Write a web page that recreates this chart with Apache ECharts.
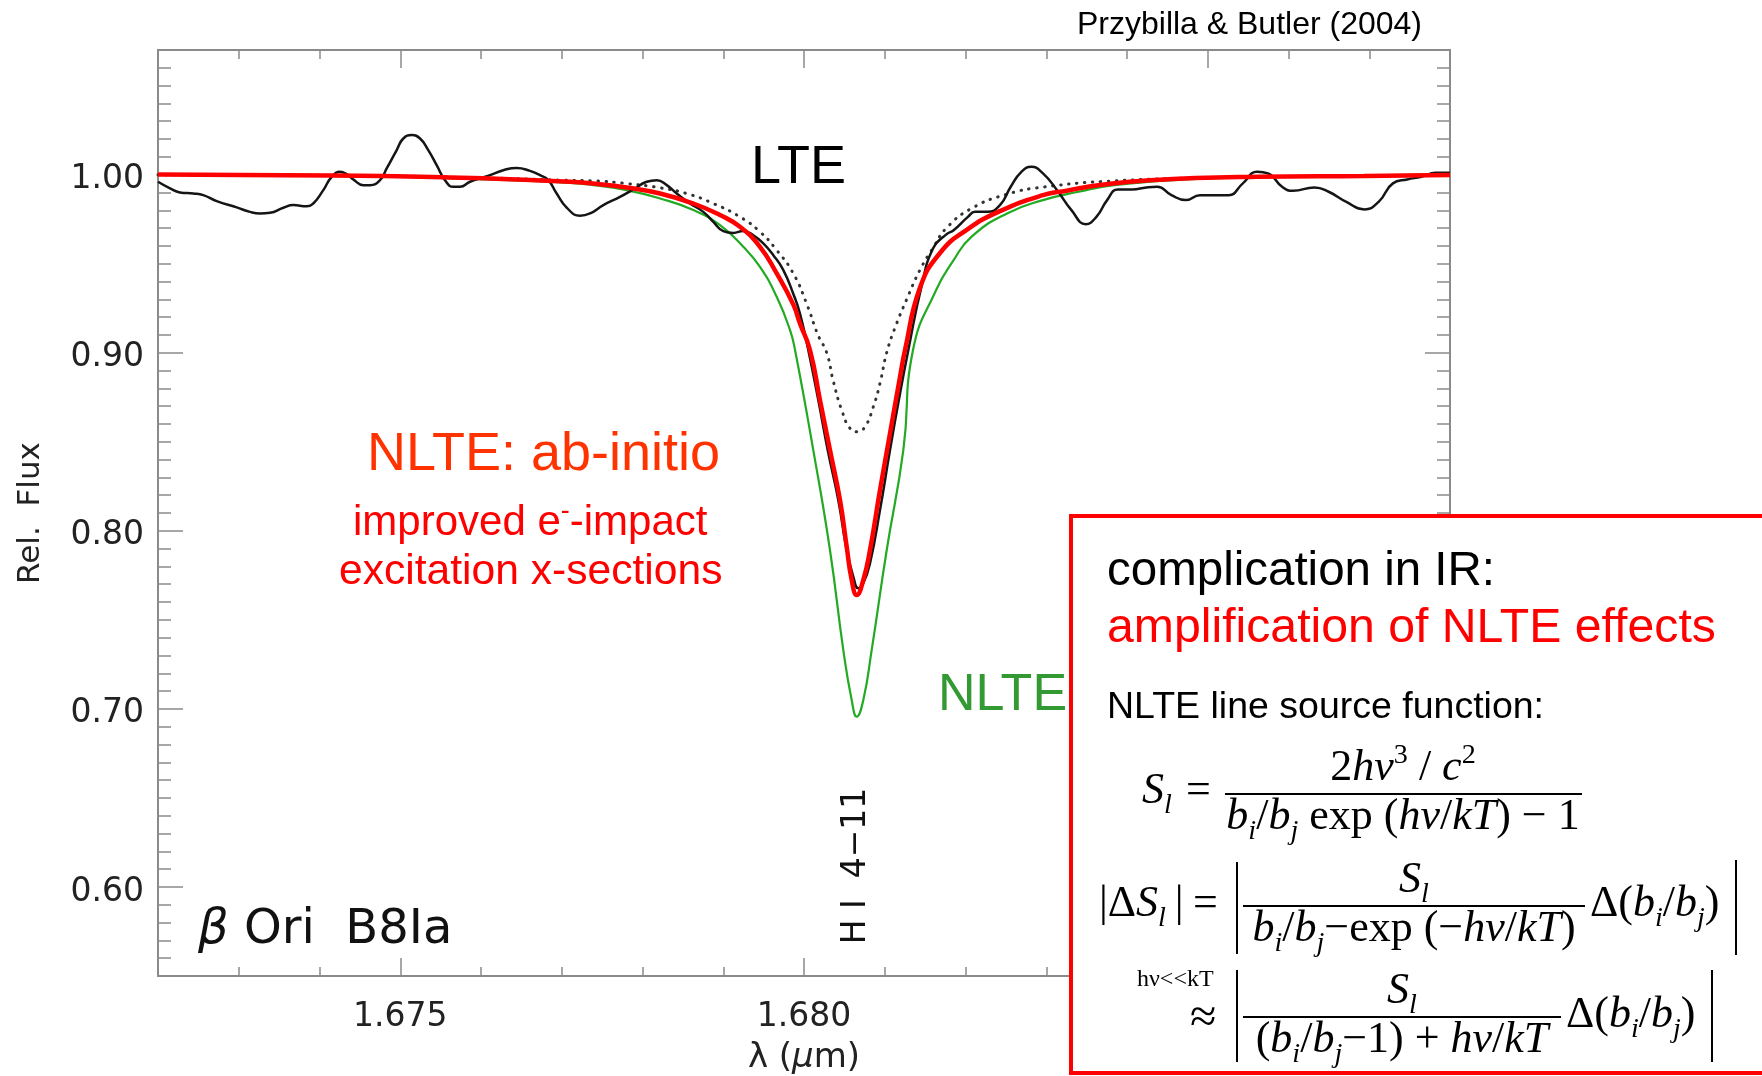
<!DOCTYPE html>
<html><head><meta charset="utf-8">
<script src="https://cdn.jsdelivr.net/npm/echarts@6/dist/echarts.min.js"></script>
<style>html,body{margin:0;padding:0;background:#fff}#c{width:1762px;height:1076px}</style>
</head><body><div id="c"></div>
<script>
// ---------- data ----------
const xTickLabels = ['1.675', '1.680', '1.685'];
const yTickLabels = ['0.60', '0.70', '0.80', '0.90', '1.00'];

// observed spectrum (black, solid)
const lambdaObs = [1.672000,1.672149,1.672272,1.672437,1.672561,1.672727,1.672975,1.673139,1.673263,1.673387,
  1.673552,1.673676,1.673841,1.673923,1.674047,1.674151,1.674254,1.674337,1.674419,1.674542,
  1.674625,1.674749,1.674832,1.674956,1.675038,1.675142,1.675245,1.675347,1.675451,1.675554,
  1.675657,1.675740,1.675864,1.675988,1.676111,1.676276,1.676442,1.676607,1.676731,1.676834,
  1.676937,1.677061,1.677226,1.677350,1.677515,1.677721,1.677886,1.678052,1.678176,1.678300,
  1.678424,1.678588,1.678753,1.678877,1.679001,1.679124,1.679248,1.679372,1.679496,1.679620,
  1.679744,1.679868,1.679950,1.680053,1.680177,1.680294,1.680425,1.680529,1.680611,1.680673,
  1.680734,1.680817,1.680941,1.681065,1.681189,1.681292,1.681454,1.681601,1.681767,1.681853,
  1.682030,1.682118,1.682272,1.682427,1.682560,1.682692,1.682816,1.682959,1.683134,1.683312,
  1.683489,1.683621,1.683754,1.683887,1.684063,1.684240,1.684373,1.684550,1.684727,1.684904,
  1.685081,1.685258,1.685435,1.685611,1.685745,1.685921,1.686055,1.686320,1.686497,1.686717,
  1.686939,1.687116,1.687293,1.687469,1.687646,1.687823,1.688000];
const fluxObs = [0.9960,0.9923,0.9900,0.9894,0.9885,0.9851,0.9816,0.9791,0.9782,0.9786,
  0.9814,0.9829,0.9823,0.9838,0.9913,0.9988,1.0016,1.0003,0.9973,0.9941,
  0.9941,0.9969,1.0035,1.0138,1.0203,1.0222,1.0203,1.0138,1.0053,0.9969,
  0.9932,0.9932,0.9960,0.9979,0.9997,1.0025,1.0038,1.0021,0.9997,0.9969,
  0.9894,0.9815,0.9769,0.9782,0.9829,0.9875,0.9917,0.9960,0.9969,0.9941,
  0.9894,0.9838,0.9791,0.9735,0.9683,0.9673,0.9684,0.9660,0.9614,0.9548,
  0.9464,0.9330,0.9220,0.9015,0.8734,0.8453,0.8172,0.7891,0.7742,0.7677,
  0.7705,0.7817,0.8116,0.8453,0.8771,0.9015,0.9370,0.9588,0.9666,0.9688,
  0.9763,0.9791,0.9791,0.9829,0.9932,1.0016,1.0044,1.0007,0.9913,0.9801,
  0.9722,0.9763,0.9857,0.9917,0.9917,0.9928,0.9932,0.9885,0.9857,0.9885,
  0.9885,0.9885,0.9951,1.0016,1.0007,0.9932,0.9909,0.9928,0.9904,0.9847,
  0.9805,0.9847,0.9951,0.9973,0.9988,1.0010,1.0010];

// LTE model (black, dotted)
const lambdaLTE = [1.672000,1.674786,1.675616,1.676442,1.676978,1.677391,1.677804,1.678217,1.678547,1.678877,
  1.679207,1.679455,1.679662,1.679868,1.680033,1.680173,1.680281,1.680363,1.680467,1.680570,
  1.680660,1.680755,1.680858,1.680941,1.681024,1.681127,1.681272,1.681437,1.681601,1.681764,
  1.682073,1.682514,1.682959,1.683843,1.685164,1.686497,1.688000];
const fluxLTE = [1.0000,0.9993,0.9986,0.9977,0.9969,0.9965,0.9950,0.9926,0.9894,0.9838,
  0.9763,0.9679,0.9576,0.9445,0.9275,0.9100,0.9000,0.8840,0.8678,0.8575,
  0.8556,0.8584,0.8696,0.8828,0.9000,0.9140,0.9300,0.9466,0.9591,0.9700,
  0.9810,0.9890,0.9930,0.9965,0.9984,0.9992,0.9996];

// NLTE model, old collision data (green)
const lambdaNLTE = [1.672000,1.674786,1.675616,1.676442,1.677102,1.677391,1.677804,1.678217,1.678629,1.678960,
  1.679248,1.679455,1.679662,1.679827,1.679889,1.680115,1.680322,1.680487,1.680591,1.680653,
  1.680734,1.680838,1.681024,1.681230,1.681350,1.681635,1.681853,1.682073,1.682514,1.682959,
  1.683401,1.683843,1.684727,1.685611,1.688000];
const fluxNLTE = [1.0000,0.9990,0.9980,0.9968,0.9954,0.9941,0.9913,0.9866,0.9801,0.9716,
  0.9595,0.9482,0.9314,0.9127,0.9015,0.8453,0.7891,0.7330,0.7049,0.6956,
  0.7049,0.7330,0.7891,0.8453,0.9015,0.9351,0.9520,0.9651,0.9782,0.9857,
  0.9904,0.9941,0.9973,0.9988,1.0000];

// NLTE model, ab-initio collision data (red)
const lambdaAbInitio = [1.672000,1.673552,1.674786,1.675616,1.676442,1.677102,1.677391,1.677804,1.678217,1.678629,
  1.678960,1.679207,1.679455,1.679662,1.679868,1.679950,1.680074,1.680198,1.680322,1.680446,
  1.680529,1.680591,1.680653,1.680734,1.680817,1.680941,1.681065,1.681189,1.681251,1.681437,
  1.681684,1.682015,1.682427,1.682959,1.683253,1.683666,1.684285,1.685611,1.686935,1.688000];
const fluxAbInitio = [1.0001,0.9997,0.9992,0.9984,0.9973,0.9960,0.9950,0.9928,0.9894,0.9838,
  0.9773,0.9707,0.9595,0.9445,0.9270,0.9164,0.9015,0.8734,0.8453,0.8172,
  0.7910,0.7723,0.7639,0.7723,0.7891,0.8228,0.8547,0.8865,0.9015,0.9366,
  0.9560,0.9690,0.9795,0.9885,0.9910,0.9942,0.9969,0.9988,0.9993,0.9998];

// ---------- helpers ----------
const zip = (xs, ys) => xs.map((x, i) => [x, ys[i]]);
const SERIF = "'Liberation Serif','Times New Roman',serif";
const SANS = "'Liberation Sans',Arial,sans-serif";
const DV = "'DejaVu Sans',sans-serif";
const MID = 0.34; // canvas 'middle' baseline offset (em)
const mctx = document.createElement('canvas').getContext('2d');
function measure(t, st, s, fam) { mctx.font = st + ' ' + s + 'px ' + fam; return mctx.measureText(t).width; }

function mrow(tokens, size, fam, color, z) {
  const items = tokens.map(([t, k]) => {
    let s = size, dy = 0;
    const st = k[0] === 'i' ? 'italic' : 'normal';
    if (k.endsWith('sub')) { s = size * 0.64; dy = size * 0.2; }
    if (k.endsWith('sup')) { s = size * 0.64; dy = -size * 0.4; }
    return { t, s, st, dy, w: measure(t, st, s, fam) };
  });
  const w = items.reduce((a, b) => a + b.w, 0);
  return {
    w,
    els(x, base) {
      let cx = x; const out = [];
      items.forEach(it => {
        out.push({ type: 'text', x: cx, y: base + it.dy - MID * it.s, z: z || 30,
          style: { text: it.t, fontSize: it.s, fontFamily: fam, fontStyle: it.st, fill: color,
                   align: 'left', verticalAlign: 'middle' } });
        cx += it.w;
      });
      return out;
    }
  };
}
function txt(t, x, base, size, fam, color, align, z) {
  return { type: 'text', x, y: base - MID * size, z: z || 30,
    style: { text: t, fontSize: size, fontFamily: fam, fill: color, align: align || 'left', verticalAlign: 'middle' } };
}
function hline(x1, x2, y, z) { return { type: 'line', z: z || 30, shape: { x1, y1: y, x2, y2: y }, style: { stroke: '#000', lineWidth: 2 } }; }
function vline(x, y1, y2, z) { return { type: 'line', z: z || 30, shape: { x1: x, y1, x2: x, y2 }, style: { stroke: '#000', lineWidth: 2 } }; }
function centered(row, cx, base) { return row.els(cx - row.w / 2, base); }

// ---------- annotations ----------
const G = [];
G.push(txt('Przybilla & Butler (2004)', 1422, 36, 32, SANS, '#000', 'right', 5));
G.push(txt('LTE', 751, 186, 54, SANS, '#000', 'left', 5));
G.push(txt('NLTE: ab-initio', 367, 473, 54, SANS, '#ff3300', 'left', 5));
G.push(...mrow([['improved e', 'r'], ['-', 'rsup'], ['-impact', 'r']], 42, SANS, '#ff0000', 5).els(353, 538));
G.push(txt('excitation x-sections', 339, 587, 42.6, SANS, '#ff0000', 'left', 5));
G.push(txt('NLTE', 938, 713, 52, SANS, '#339933', 'left', 5));
G.push(...mrow([['\u03b2', 'i'], [' Ori  B8Ia', 'r']], 48, DV, '#111', 5).els(198, 947));
G.push({ type: 'text', x: 856, y: 866, rotation: Math.PI / 2, z: 5,
  style: { text: 'H I  4\u221211', fontSize: 33, fontFamily: DV, fill: '#111', align: 'center', verticalAlign: 'middle' } });

// red box
G.push({ type: 'rect', z: 20, shape: { x: 1071, y: 516, width: 760, height: 557 },
  style: { fill: '#fff', stroke: '#ff0000', lineWidth: 4 } });
G.push(txt('complication in IR:', 1107, 588, 47.5, SANS, '#000'));
G.push(txt('amplification of NLTE effects', 1107, 645, 48.2, SANS, '#ff0000'));
G.push(txt('NLTE line source function:', 1107, 720, 37.5, SANS, '#000'));

const ES = 44;
const bij = [['b', 'i'], ['i', 'isub'], ['/', 'r'], ['b', 'i'], ['j', 'isub']];
// equation 1
G.push(...mrow([['S', 'i'], ['l', 'isub']], ES, SERIF, '#000').els(1142, 806));
G.push(...mrow([['=', 'r']], ES, SERIF, '#000').els(1186, 806));
G.push(hline(1225, 1582, 794));
G.push(...centered(mrow([['2', 'r'], ['h\u03bd', 'i'], ['3', 'rsup'], [' / ', 'r'], ['c', 'i'], ['2', 'rsup']], ES, SERIF, '#000'), 1403, 783));
G.push(...centered(mrow([...bij, [' exp (', 'r'], ['h\u03bd', 'i'], ['/', 'r'], ['kT', 'i'], [') \u2212 1', 'r']], ES, SERIF, '#000'), 1403, 832));
// equation 2
G.push(...mrow([['|\u0394', 'r'], ['S', 'i'], ['l', 'isub'], ['\u2009|', 'r']], ES, SERIF, '#000').els(1099, 919));
G.push(...mrow([['=', 'r']], ES, SERIF, '#000').els(1193, 919));
G.push(vline(1237, 862, 954));
G.push(vline(1736, 860, 955));
G.push(hline(1243, 1585, 906));
G.push(...centered(mrow([['S', 'i'], ['l', 'isub']], ES, SERIF, '#000'), 1414, 895));
G.push(...centered(mrow([...bij, ['\u2212exp (\u2212', 'r'], ['h\u03bd', 'i'], ['/', 'r'], ['kT', 'i'], [')', 'r']], ES, SERIF, '#000'), 1414, 944));
G.push(...mrow([['\u0394(', 'r'], ...bij, [')', 'r']], ES, SERIF, '#000').els(1590, 919));
// equation 3
G.push(txt('h\u03bd<<kT', 1137, 988, 24, SERIF, '#000'));
G.push(...mrow([['\u2248', 'r']], 48, SERIF, '#000').els(1190, 1036));
G.push(vline(1237, 970, 1062));
G.push(vline(1712, 970, 1062));
G.push(hline(1243, 1561, 1017));
G.push(...centered(mrow([['S', 'i'], ['l', 'isub']], ES, SERIF, '#000'), 1402, 1006));
G.push(...centered(mrow([['(', 'r'], ...bij, ['\u22121) + ', 'r'], ['h\u03bd', 'i'], ['/', 'r'], ['kT', 'i']], ES, SERIF, '#000'), 1402, 1055));
G.push(...mrow([['\u0394(', 'r'], ...bij, [')', 'r']], ES, SERIF, '#000').els(1566, 1030));

// ---------- chart ----------
const AX = '#8a8a8a';
function xAxisOpt(pos, showLabel) {
  return {
    type: 'value', position: pos, min: 1.672, max: 1.688, splitNumber: 3,
    axisLine: { show: true, onZero: false, lineStyle: { color: AX, width: 2 } },
    axisTick: { show: true, inside: true, length: 18, lineStyle: { color: AX, width: 1.5 } },
    minorTick: { show: true, splitNumber: 5, length: 9, lineStyle: { color: AX, width: 1.5 } },
    splitLine: { show: false }, minorSplitLine: { show: false },
    axisLabel: { show: showLabel, margin: 25, fontSize: 33, fontFamily: DV, color: '#222',
      formatter: v => xTickLabels.includes(v.toFixed(3)) ? v.toFixed(3) : '' },
    name: showLabel ? '{a|\u03bb (}{b|\u03bc}{a|m)}' : '', nameLocation: 'middle', nameGap: 65,
    nameTextStyle: { rich: { a: { fontSize: 34, fontFamily: DV, color: '#222' },
                             b: { fontSize: 34, fontFamily: DV, fontStyle: 'italic', color: '#222' } } }
  };
}
function yAxisOpt(pos, showLabel) {
  return {
    type: 'value', position: pos, min: 0.55, max: 1.07, splitNumber: 5,
    axisLine: { show: true, onZero: false, lineStyle: { color: AX, width: 2 } },
    axisTick: { show: true, inside: true, length: 25, lineStyle: { color: AX, width: 1.5 } },
    minorTick: { show: true, splitNumber: 10, length: 13, lineStyle: { color: AX, width: 1.5 } },
    splitLine: { show: false }, minorSplitLine: { show: false },
    axisLabel: { show: showLabel, margin: 14, color: '#222',
      formatter: v => yTickLabels.includes(v.toFixed(2)) ? '{t|' + v.toFixed(2) + '}' : '',
      rich: { t: { fontSize: 33, fontFamily: DV, color: '#222', padding: [10, 0, 0, 0] } } },
    name: showLabel ? 'Rel.  Flux' : '', nameLocation: 'middle', nameRotate: 90, nameGap: 112,
    nameTextStyle: { fontSize: 31, fontFamily: DV, color: '#222' }
  };
}

const chart = echarts.init(document.getElementById('c'), null, { renderer: 'canvas' });
chart.setOption({
  backgroundColor: '#fff',
  animation: false,
  grid: { left: 158, right: 312, top: 50, bottom: 100, containLabel: false, outerBoundsMode: 'none' },
  xAxis: [xAxisOpt('bottom', true), xAxisOpt('top', false)],
  yAxis: [yAxisOpt('left', true), yAxisOpt('right', false)],
  series: [
    { name: 'NLTE', type: 'line', data: zip(lambdaNLTE, fluxNLTE), showSymbol: false, symbol: 'none',
      smooth: 0.5, lineStyle: { color: '#22aa22', width: 2.2 }, z: 2 },
    { name: 'LTE', type: 'line', data: zip(lambdaLTE, fluxLTE), showSymbol: false, symbol: 'none',
      smooth: 0.5, lineStyle: { color: '#333', width: 3, type: [0.5, 7.5], cap: 'round' }, z: 3 },
    { name: 'observed', type: 'line', data: zip(lambdaObs, fluxObs), showSymbol: false, symbol: 'none',
      smooth: 0.5, lineStyle: { color: '#151515', width: 2.5 }, z: 4 },
    { name: 'NLTE ab-initio', type: 'line', data: zip(lambdaAbInitio, fluxAbInitio), showSymbol: false, symbol: 'none',
      smooth: 0.5, lineStyle: { color: '#ff0000', width: 4.5 }, z: 5 }
  ],
  graphic: { elements: G }
});
</script></body></html>
